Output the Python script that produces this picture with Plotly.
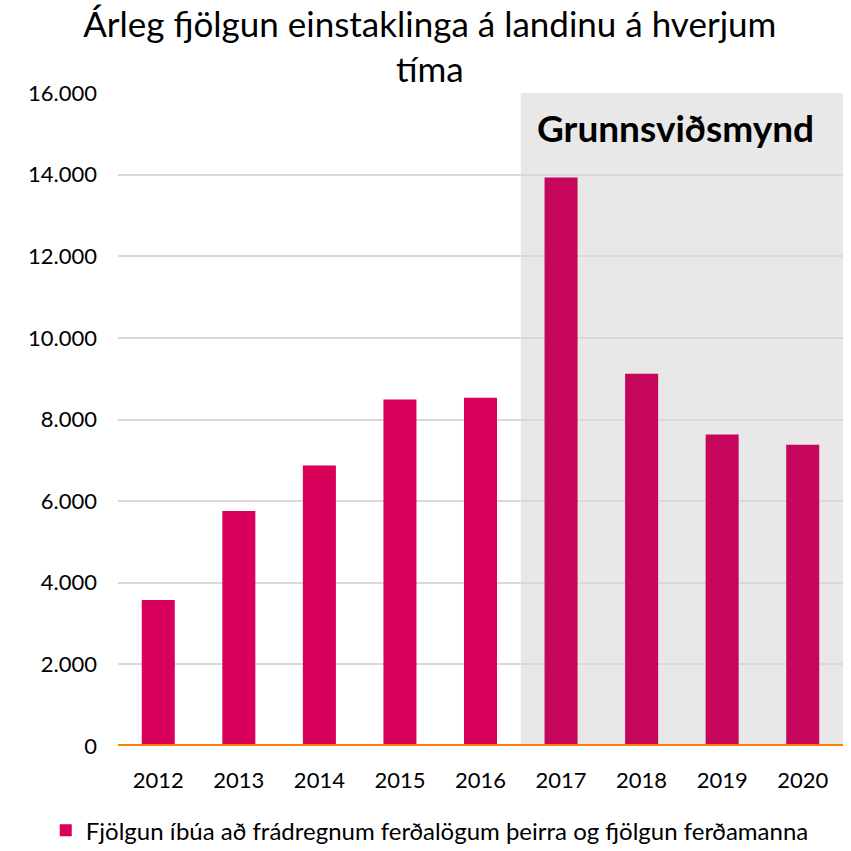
import plotly.graph_objects as go

years = ["2012", "2013", "2014", "2015", "2016", "2017", "2018", "2019", "2020"]
values = [3580, 5760, 6870, 8490, 8530, 13930, 9120, 7630, 7380]
series_name = "Fjölgun íbúa að frádregnum ferðalögum þeirra og fjölgun ferðamanna"
title_text = "Árleg fjölgun einstaklinga á landinu á hverjum<br>tíma"
scenario_label = "Grunnsviðsmynd"
scenario_years = ["2017", "2018", "2019", "2020"]

colors = ["#C5065A" if y in scenario_years else "#D9005B" for y in years]

fig = go.Figure()
fig.add_trace(go.Bar(
    x=years, y=values, name=series_name,
    marker=dict(color=colors, line=dict(width=0)),
    width=0.41, showlegend=True,
))

first_idx = years.index(scenario_years[0])
last_idx = years.index(scenario_years[-1])
fig.add_shape(type="rect", xref="x", yref="y",
              x0=first_idx - 0.5, x1=last_idx + 0.5, y0=0, y1=16000,
              fillcolor="#E8E8E8", line=dict(width=0), layer="below")
fig.add_shape(type="line", xref="paper", yref="y", x0=0, x1=1, y0=0, y1=0,
              line=dict(color="#FF7F00", width=4), layer="above")
fig.add_annotation(x=(first_idx + last_idx) / 2 - 0.08, y=15150, xref="x", yref="y",
                   text="<b>" + scenario_label + "</b>", showarrow=False,
                   font=dict(size=37, color="#000000", family="Lato"))

fig.update_layout(
    width=851, height=851,
    margin=dict(l=118, r=8, t=93, b=105, autoexpand=False),
    paper_bgcolor="white", plot_bgcolor="white",
    separators=",.",
    font=dict(family="Lato", color="#000000", size=22),
    title=dict(text=title_text, x=0.505, xanchor="center", y=0.957, yanchor="top",
               font=dict(size=35, family="Lato", color="#000000"), automargin=False),
    legend=dict(orientation="h", xref="container", yref="container",
                x=0.505, xanchor="center", y=0.024, yanchor="middle",
                font=dict(size=24), itemwidth=30),
    bargap=0.59,
)
fig.update_xaxes(showgrid=False, showline=False, ticks="", tickfont=dict(size=22),
                 range=[-0.5, len(years) - 0.5], automargin=False, ticklabelstandoff=19)
fig.update_yaxes(range=[0, 16000], dtick=2000, tickformat=",.0f", showgrid=True,
                 gridcolor="#D9D9D9", gridwidth=1.5, zeroline=False, showline=False,
                 tickfont=dict(size=22), ticklabelstandoff=20, automargin=False)

fig.write_html("out.html", config={"displayModeBar": False},
               post_script="document.body.style.margin='0';document.body.style.overflow='hidden';window.scrollTo(0,0);")
